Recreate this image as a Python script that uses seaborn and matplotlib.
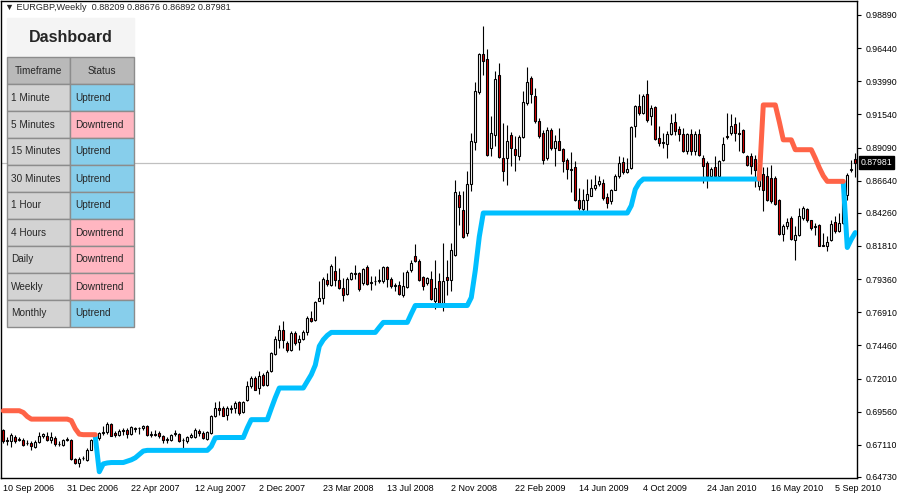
import matplotlib
matplotlib.use("Agg")
import matplotlib.pyplot as plt
import matplotlib.transforms as mtransforms
from matplotlib.patches import Rectangle
import numpy as np
import pandas as pd
import seaborn as sns

# -------------------- Chart data --------------------
symbol = "EURGBP,Weekly"
first_week = "2006-09-10"

opens = [
    0.6823, 0.6737, 0.6737, 0.6768, 0.6749, 0.6749, 0.6724, 0.6724, 0.6695, 0.6729,
    0.6778, 0.6778, 0.6749, 0.6761, 0.6717, 0.6707, 0.6749, 0.6749, 0.6609, 0.6577,
    0.6611, 0.6601, 0.6675, 0.6749, 0.6761, 0.6798, 0.6803, 0.6867, 0.6798, 0.6786,
    0.6823, 0.6823, 0.6791, 0.6828, 0.6832, 0.6832, 0.6852, 0.6786, 0.6791, 0.6798,
    0.6778, 0.6749, 0.6749, 0.6793, 0.6793, 0.6744, 0.6737, 0.6768, 0.6768, 0.6815,
    0.6798, 0.6754, 0.6798, 0.6922, 0.6984, 0.6984, 0.6934, 0.6976, 0.6984, 0.7026,
    0.6952, 0.7045, 0.7149, 0.7205, 0.7131, 0.7230, 0.7156, 0.7254, 0.7385, 0.7488,
    0.7562, 0.7463, 0.7409, 0.7537, 0.7468, 0.7493, 0.7542, 0.7648, 0.7631, 0.7776,
    0.7796, 0.7931, 0.7894, 0.7997, 0.7926, 0.7869, 0.7827, 0.7936, 0.7980, 0.7980,
    0.7906, 0.8024, 0.7911, 0.7919, 0.7919, 0.7919, 0.8029, 0.7936, 0.7887, 0.7894,
    0.7820, 0.7877, 0.8000, 0.8108, 0.8073, 0.7950, 0.7906, 0.7938, 0.7773, 0.7921,
    0.7761, 0.7953, 0.7933, 0.8118, 0.8560, 0.8450, 0.8278, 0.8639, 0.8947, 0.9316,
    0.9601, 0.9562, 0.8905, 0.9003, 0.9446, 0.8831, 0.8831, 0.9003, 0.8898, 0.8843,
    0.8986, 0.9237, 0.9421, 0.9291, 0.9102, 0.9016, 0.8831, 0.9035, 0.8905, 0.8961,
    0.8898, 0.8814, 0.8750, 0.8765, 0.8519, 0.8455, 0.8524, 0.8553, 0.8610, 0.8642,
    0.8647, 0.8543, 0.8511, 0.8597, 0.8696, 0.8799, 0.8725, 0.8757, 0.9065, 0.9217,
    0.9168, 0.9306, 0.9143, 0.9207, 0.8979, 0.8942, 0.8937, 0.9010, 0.9101, 0.9045,
    0.9010, 0.8880, 0.9010, 0.8880, 0.9010, 0.8831, 0.8794, 0.8696, 0.8764, 0.8696,
    0.8819, 0.8996, 0.9015, 0.9084, 0.9015, 0.9040, 0.8843, 0.8843, 0.8824, 0.8622,
    0.8715, 0.8696, 0.8683, 0.8683, 0.8523, 0.8272, 0.8327, 0.8388, 0.8228, 0.8265,
    0.8388, 0.8454, 0.8370, 0.8325, 0.8339, 0.8184, 0.8184, 0.8228, 0.8356, 0.8290,
    0.8351, 0.8560, 0.8745, 0.88209,
]
highs = [
    0.6830, 0.6768, 0.6798, 0.6786, 0.6768, 0.6761, 0.6744, 0.6737, 0.6744, 0.6805,
    0.6798, 0.6805, 0.6803, 0.6773, 0.6737, 0.6754, 0.6768, 0.6754, 0.6616, 0.6621,
    0.6626, 0.6685, 0.6754, 0.6786, 0.6803, 0.6852, 0.6877, 0.6872, 0.6810, 0.6828,
    0.6835, 0.6835, 0.6852, 0.6842, 0.6842, 0.6860, 0.6860, 0.6810, 0.6823, 0.6810,
    0.6786, 0.6768, 0.6793, 0.6823, 0.6798, 0.6761, 0.6778, 0.6798, 0.6835, 0.6828,
    0.6810, 0.6810, 0.6933, 0.7026, 0.7033, 0.6996, 0.7001, 0.7008, 0.7033, 0.7033,
    0.7033, 0.7181, 0.7217, 0.7217, 0.7254, 0.7242, 0.7267, 0.7395, 0.7513, 0.7599,
    0.7623, 0.7476, 0.7550, 0.7550, 0.7525, 0.7562, 0.7665, 0.7697, 0.7771, 0.7919,
    0.7955, 0.7985, 0.8049, 0.8108, 0.8017, 0.7943, 0.7955, 0.7992, 0.8041, 0.7992,
    0.8017, 0.8041, 0.7960, 0.7960, 0.8010, 0.8034, 0.8034, 0.7955, 0.7911, 0.7919,
    0.7992, 0.8000, 0.8078, 0.8196, 0.8083, 0.7960, 0.7955, 0.7995, 0.8081, 0.7982,
    0.8204, 0.8081, 0.8204, 0.8671, 0.8585, 0.8585, 0.8733, 0.9016, 0.9397, 0.9611,
    0.9808, 0.9636, 0.9139, 0.9478, 0.9532, 0.9089, 0.9077, 0.9021, 0.8991, 0.9003,
    0.9330, 0.9503, 0.9439, 0.9348, 0.9126, 0.9040, 0.9060, 0.9052, 0.9003, 0.9052,
    0.8905, 0.8831, 0.8873, 0.8806, 0.8610, 0.8602, 0.8676, 0.8676, 0.8708, 0.8696,
    0.8676, 0.8573, 0.8602, 0.8715, 0.8848, 0.8838, 0.8831, 0.9065, 0.9225, 0.9306,
    0.9306, 0.9409, 0.9224, 0.9217, 0.9065, 0.9015, 0.9028, 0.9156, 0.9163, 0.9065,
    0.9052, 0.9015, 0.9045, 0.9028, 0.9045, 0.8856, 0.8806, 0.8764, 0.8843, 0.8814,
    0.8986, 0.9163, 0.9158, 0.9133, 0.9101, 0.9045, 0.8856, 0.8868, 0.8856, 0.8715,
    0.8764, 0.8764, 0.8782, 0.8696, 0.8528, 0.8346, 0.8388, 0.8400, 0.8332, 0.8462,
    0.8474, 0.8462, 0.8376, 0.8351, 0.8346, 0.8277, 0.8253, 0.8376, 0.8400, 0.8425,
    0.8600, 0.8720, 0.8819, 0.88676,
]
lows = [
    0.6724, 0.6712, 0.6695, 0.6724, 0.6737, 0.6700, 0.6707, 0.6675, 0.6687, 0.6724,
    0.6761, 0.6737, 0.6724, 0.6700, 0.6700, 0.6700, 0.6737, 0.6596, 0.6569, 0.6547,
    0.6601, 0.6594, 0.6670, 0.6737, 0.6749, 0.6786, 0.6793, 0.6773, 0.6768, 0.6773,
    0.6786, 0.6761, 0.6786, 0.6803, 0.6793, 0.6823, 0.6778, 0.6768, 0.6773, 0.6761,
    0.6724, 0.6724, 0.6737, 0.6773, 0.6730, 0.6682, 0.6724, 0.6765, 0.6761, 0.6773,
    0.6754, 0.6744, 0.6793, 0.6917, 0.6934, 0.6922, 0.6898, 0.6947, 0.6947, 0.6934,
    0.6947, 0.7033, 0.7131, 0.7114, 0.7089, 0.7144, 0.7144, 0.7247, 0.7377, 0.7427,
    0.7427, 0.7399, 0.7402, 0.7451, 0.7414, 0.7483, 0.7525, 0.7616, 0.7623, 0.7771,
    0.7754, 0.7882, 0.7882, 0.7882, 0.7862, 0.7771, 0.7820, 0.7926, 0.7936, 0.7845,
    0.7894, 0.7894, 0.7857, 0.7894, 0.7906, 0.7911, 0.7877, 0.7869, 0.7845, 0.7820,
    0.7803, 0.7869, 0.7992, 0.8066, 0.7919, 0.7852, 0.7894, 0.7781, 0.7712, 0.7741,
    0.7699, 0.7815, 0.7847, 0.8105, 0.8339, 0.8241, 0.8258, 0.8585, 0.8888, 0.9306,
    0.9446, 0.8843, 0.8848, 0.8917, 0.8831, 0.8659, 0.8634, 0.8775, 0.8733, 0.8819,
    0.8979, 0.9225, 0.9237, 0.9089, 0.8979, 0.8789, 0.8819, 0.8893, 0.8770, 0.8888,
    0.8725, 0.8676, 0.8578, 0.8511, 0.8445, 0.8430, 0.8430, 0.8548, 0.8592, 0.8627,
    0.8524, 0.8462, 0.8494, 0.8592, 0.8683, 0.8715, 0.8720, 0.8750, 0.8986, 0.9151,
    0.9158, 0.9101, 0.9077, 0.8966, 0.8922, 0.8905, 0.8831, 0.9003, 0.9003, 0.8954,
    0.8873, 0.8863, 0.8856, 0.8856, 0.8843, 0.8646, 0.8610, 0.8671, 0.8676, 0.8671,
    0.8806, 0.8971, 0.9003, 0.8954, 0.8887, 0.8868, 0.8769, 0.8715, 0.8617, 0.8597,
    0.8437, 0.8511, 0.8499, 0.8487, 0.8265, 0.8216, 0.8307, 0.8228, 0.8081, 0.8258,
    0.8376, 0.8360, 0.8302, 0.8265, 0.8179, 0.8179, 0.8142, 0.8216, 0.8277, 0.8282,
    0.8340, 0.8523, 0.8725, 0.86892,
]
closes = [
    0.6737, 0.6749, 0.6786, 0.6737, 0.6749, 0.6712, 0.6724, 0.6700, 0.6732, 0.6778,
    0.6788, 0.6749, 0.6768, 0.6717, 0.6719, 0.6749, 0.6749, 0.6606, 0.6577, 0.6606,
    0.6614, 0.6675, 0.6749, 0.6786, 0.6798, 0.6803, 0.6867, 0.6778, 0.6786, 0.6815,
    0.6815, 0.6791, 0.6842, 0.6832, 0.6832, 0.6852, 0.6786, 0.6791, 0.6786, 0.6778,
    0.6744, 0.6749, 0.6786, 0.6798, 0.6737, 0.6744, 0.6768, 0.6783, 0.6823, 0.6798,
    0.6761, 0.6803, 0.6926, 0.6984, 0.6971, 0.6927, 0.6984, 0.6980, 0.7021, 0.6947,
    0.7026, 0.7149, 0.7205, 0.7119, 0.7222, 0.7156, 0.7247, 0.7390, 0.7493, 0.7557,
    0.7483, 0.7409, 0.7537, 0.7463, 0.7493, 0.7542, 0.7648, 0.7623, 0.7764, 0.7796,
    0.7936, 0.7899, 0.8034, 0.7926, 0.7869, 0.7820, 0.7936, 0.7980, 0.7975, 0.7862,
    0.8010, 0.7899, 0.7911, 0.7921, 0.7926, 0.8024, 0.7936, 0.7887, 0.7894, 0.7825,
    0.7887, 0.7990, 0.8054, 0.8073, 0.7926, 0.7887, 0.7943, 0.7786, 0.7872, 0.7749,
    0.7921, 0.7928, 0.8155, 0.8578, 0.8469, 0.8248, 0.8639, 0.8954, 0.9330, 0.9601,
    0.9552, 0.8856, 0.9016, 0.9414, 0.8838, 0.8733, 0.8954, 0.8905, 0.8856, 0.8986,
    0.9249, 0.9397, 0.9306, 0.9102, 0.8991, 0.8814, 0.9040, 0.8905, 0.8954, 0.8893,
    0.8806, 0.8750, 0.8745, 0.8524, 0.8462, 0.8524, 0.8568, 0.8610, 0.8634, 0.8659,
    0.8536, 0.8499, 0.8592, 0.8701, 0.8794, 0.8725, 0.8750, 0.9060, 0.9217, 0.9163,
    0.9291, 0.9109, 0.9200, 0.8971, 0.8942, 0.8947, 0.9010, 0.9089, 0.9028, 0.9010,
    0.8880, 0.9010, 0.8880, 0.9010, 0.8856, 0.8774, 0.8696, 0.8750, 0.8696, 0.8806,
    0.8937, 0.8990, 0.9069, 0.9020, 0.9012, 0.8873, 0.8782, 0.8774, 0.8740, 0.8708,
    0.8597, 0.8523, 0.8511, 0.8494, 0.8272, 0.8332, 0.8356, 0.8233, 0.8265, 0.8400,
    0.8462, 0.8370, 0.8314, 0.8332, 0.8184, 0.8191, 0.8209, 0.8346, 0.8290, 0.8351,
    0.8560, 0.8708, 0.8750, 0.87981,
]

# trailing stop lines: None where the line is not drawn
down_line = ([0.6963] * 5 + [0.6950, 0.6920] + [0.6901] * 10 + [0.6890, 0.6830, 0.6790]
             + [0.6786] * 4 + [None] * 165
             + [0.8676] + [0.9224] * 4 + [0.9100] + [0.8966] * 3 + [0.8893] * 5
             + [0.8830, 0.8760, 0.8700] + [0.8659] * 5 + [None] * 3)
up_line = ([None] * 23 + [0.6770, 0.6512, 0.6570, 0.6577] + [0.6580] * 4
           + [0.6590, 0.6600, 0.6615, 0.6640, 0.6665] + [0.6670] * 16 + [0.6700, 0.6763]
           + [0.6765] * 7 + [0.6836] + [0.6897] * 5 + [0.6980, 0.7060] + [0.7131] * 7
           + [0.7180, 0.7230, 0.7300, 0.7440, 0.7488, 0.7520] + [0.7542] * 12 + [0.7580]
           + [0.7616] * 7 + [0.7680] + [0.7741] * 14 + [0.7800, 0.8000, 0.8250]
           + [0.8425] * 37 + [0.8480, 0.8600, 0.8650] + [0.8676] * 30
           + [None] * 20 + [0.8650, 0.8170, 0.8230, 0.8280])

price_ticks = [0.98890, 0.96440, 0.93990, 0.91540, 0.89090, 0.86640, 0.84260,
               0.81810, 0.79360, 0.76910, 0.74460, 0.72010, 0.69560, 0.67110, 0.64730]

timeframes = ["1 Minute", "5 Minutes", "15 Minutes", "30 Minutes", "1 Hour",
              "4 Hours", "Daily", "Weekly", "Monthly"]
statuses = ["Uptrend", "Downtrend", "Uptrend", "Uptrend", "Uptrend",
            "Downtrend", "Downtrend", "Downtrend", "Uptrend"]

n = len(closes)
assert len(opens) == len(highs) == len(lows) == n == len(up_line) == len(down_line)

df = pd.DataFrame({"week": np.arange(n), "open": opens, "high": highs,
                   "low": lows, "close": closes})
df["date"] = pd.date_range(first_week, periods=n, freq="7D")
df["up"] = pd.to_numeric(pd.Series(up_line), errors="coerce")
df["down"] = pd.to_numeric(pd.Series(down_line), errors="coerce")

# -------------------- Figure --------------------
sns.set_style("white")
plt.rcParams["font.family"] = ["Liberation Sans", "DejaVu Sans"]

W, H = 900, 500
fig = plt.figure(figsize=(9, 5), dpi=100)
ax = fig.add_axes([1 / W, 22 / H, 856 / W, 477 / H])

# candle bodies and wicks
bull = df["close"] >= df["open"]
body_low = df[["open", "close"]].min(axis=1)
body_h = (df["close"] - df["open"]).abs().clip(lower=0.00025)
ax.vlines(df["week"], df["low"], df["high"], color="black", lw=0.8, zorder=2)
ax.bar(df["week"], body_h, bottom=body_low, width=0.6,
       color=np.where(bull, "white", "#E00000"), edgecolor="black", linewidth=0.8, zorder=3)


def draw_segments(col, colour):
    # split the line into continuous runs so gaps stay empty
    valid = df[col].notna()
    run_id = (valid != valid.shift()).cumsum()
    for _, part in df[valid].groupby(run_id[valid]):
        sns.lineplot(data=part, x="week", y=col, ax=ax, color=colour, lw=3.6,
                     estimator=None, zorder=4)


draw_segments("up", "#00BFFF")
draw_segments("down", "#FF6347")

# current price line
last_close = closes[-1]
ax.axhline(last_close, color="#C0C0C0", lw=0.9, zorder=1)

ax.set_xlim(-0.575, n - 0.57)
ax.set_ylim(0.64656, 0.99925)
ax.set_xlabel("")
ax.set_ylabel("")

tick_weeks = list(range(0, n, 16))
ax.set_xticks(tick_weeks)
ax.set_xticklabels([f"{d.day} {d:%b %Y}" for d in df["date"].iloc[tick_weeks]],
                   ha="left", fontsize=6.5)
ax.yaxis.tick_right()
ax.set_yticks(price_ticks)
ax.set_yticklabels([f"{p:.5f}" for p in price_ticks], fontsize=6.3)
ax.tick_params(axis="x", direction="out", length=3, width=0.8, pad=1.5, colors="black")
ax.tick_params(axis="y", direction="out", length=3, width=0.8, pad=3.5, colors="black")
for s in ax.spines.values():
    s.set_color("black")
    s.set_linewidth(1)

# price tag on the right axis
tag = mtransforms.blended_transform_factory(ax.transAxes, ax.transData)
ax.text(1.004, last_close, f"{last_close:.5f}", transform=tag, fontsize=6.3, color="white",
        va="center", ha="left", bbox=dict(boxstyle="square,pad=0.2", fc="black", ec="black"),
        zorder=6, clip_on=False)

# header line
fig.text(5 / W, 1 - 8 / H, f"\u25bc {symbol}  {opens[-1]:.5f} {highs[-1]:.5f} "
         f"{lows[-1]:.5f} {closes[-1]:.5f}", fontsize=6.6, va="center", ha="left")

# -------------------- Dashboard table --------------------
def px_rect(x0, y0, x1, y1, fc, ec="#8C8C8C"):
    fig.patches.append(Rectangle((x0 / W, 1 - y1 / H), (x1 - x0) / W, (y1 - y0) / H,
                                 transform=fig.transFigure, fc=fc, ec=ec, lw=1, zorder=5))


def px_text(x, y, s, **kw):
    fig.text(x / W, 1 - y / H, s, va="center", zorder=6, **kw)


px_rect(7, 18, 134, 57, "#F4F4F4", ec="#F4F4F4")
px_text(70.5, 37.5, "Dashboard", ha="center", fontsize=11.5, fontweight="bold")
px_rect(7, 57, 70, 84, "#B9B9B9")
px_rect(70, 57, 134, 84, "#B9B9B9")
px_text(38.5, 70.5, "Timeframe", ha="center", fontsize=7.2)
px_text(102, 70.5, "Status", ha="center", fontsize=7.2)
for i, (tf, st) in enumerate(zip(timeframes, statuses)):
    y0 = 84 + 27 * i
    px_rect(7, y0, 70, y0 + 27, "#D3D3D3")
    px_rect(70, y0, 134, y0 + 27, "#87CEEB" if st == "Uptrend" else "#FFB6C1")
    px_text(11, y0 + 13.5, tf, ha="left", fontsize=7.2)
    px_text(75, y0 + 13.5, st, ha="left", fontsize=7.2)

fig.savefig("out.png", dpi=100)
